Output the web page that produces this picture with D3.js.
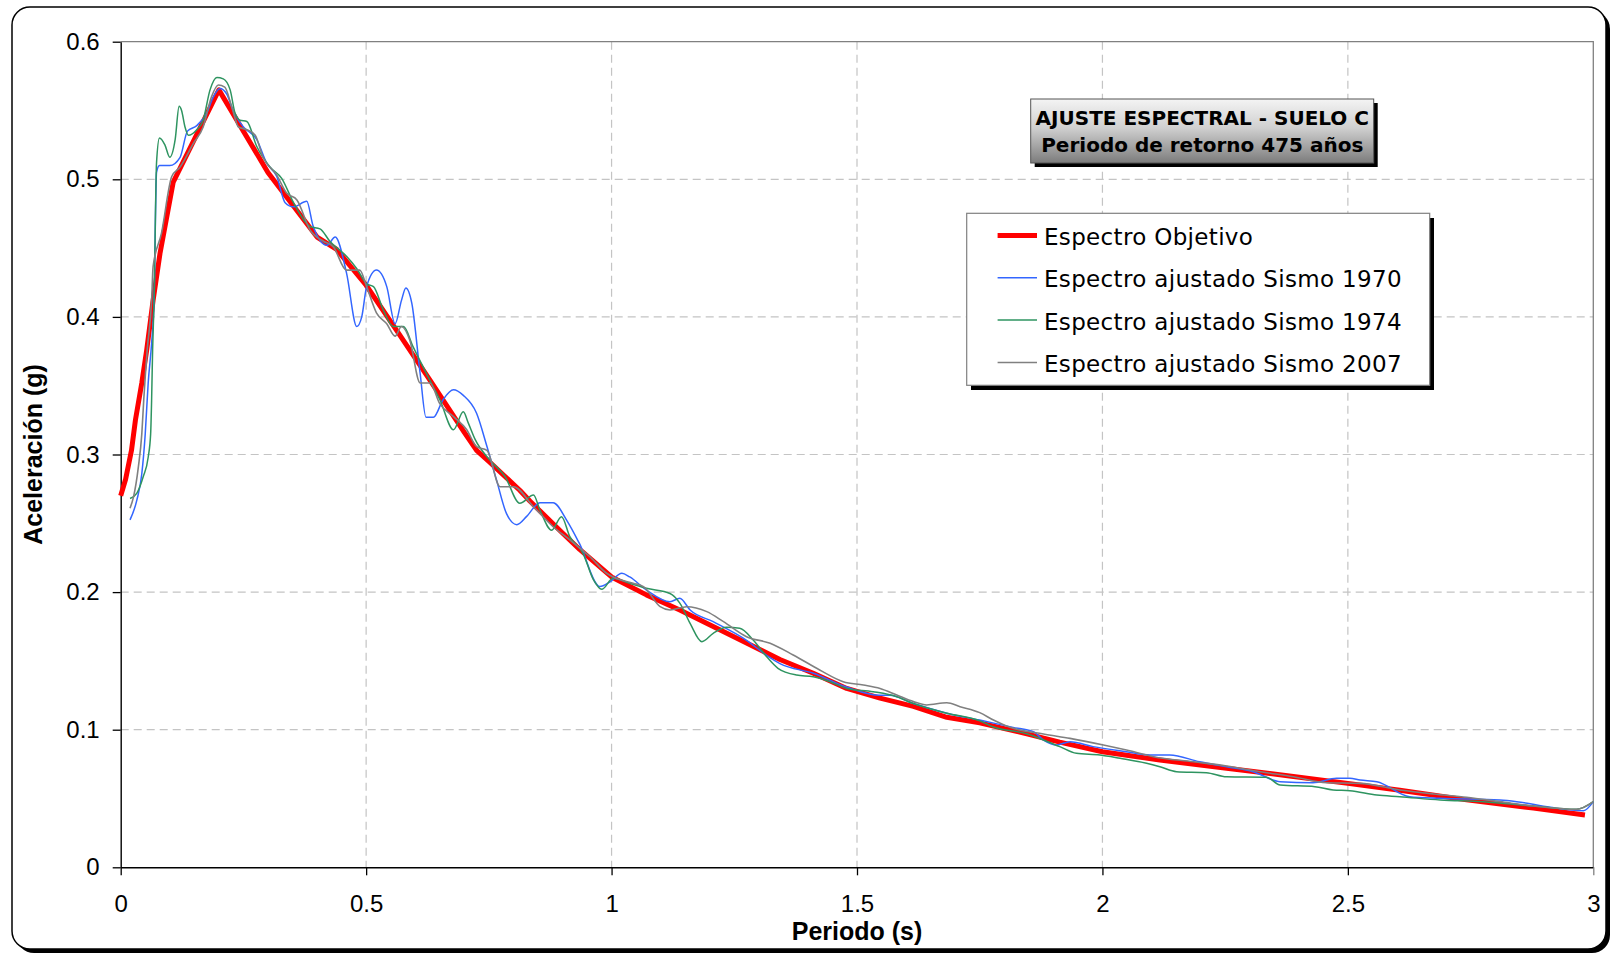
<!DOCTYPE html>
<html><head><meta charset="utf-8">
<script src="https://cdn.jsdelivr.net/npm/d3@7"></script>
<style>html,body{margin:0;padding:0;background:#fff;overflow:hidden}</style>
</head><body><svg id="c" width="1616" height="953"></svg>
<script>
// ---------- DATA ----------
const xTicks = [0, 0.5, 1, 1.5, 2, 2.5, 3];
const xTickLabels = ["0", "0.5", "1", "1.5", "2", "2.5", "3"];
const yTicks = [0, 0.1, 0.2, 0.3, 0.4, 0.5, 0.6];
const yTickLabels = ["0", "0.1", "0.2", "0.3", "0.4", "0.5", "0.6"];
const seriesNames = ["Espectro Objetivo", "Espectro ajustado Sismo 1970", "Espectro ajustado Sismo 1974", "Espectro ajustado Sismo 2007"];

const objT = [0,0.01,0.022,0.03,0.043,0.053,0.066,0.08,0.107,0.2,0.3,0.4,0.44,0.5,0.57,0.617,0.63,0.7,0.725,0.75,0.813,0.834,0.9,0.935,1.0,1.071,1.139,1.207,1.275,1.343,1.411,1.479,1.547,1.615,1.683,1.75,1.846,1.913,2.0,2.117,2.253,2.389,2.5,2.606,2.742,2.878,2.983];
const objA = [0.270,0.282,0.303,0.325,0.352,0.376,0.412,0.446,0.498,0.565,0.505,0.458,0.449,0.423,0.386,0.361,0.354,0.316,0.303,0.295,0.274,0.266,0.243,0.231,0.211,0.198,0.187,0.175,0.163,0.151,0.141,0.130,0.123,0.117,0.109,0.105,0.097,0.091,0.084,0.078,0.072,0.066,0.061,0.056,0.049,0.043,0.038];

const s1970T = [0.019,0.033,0.043,0.050,0.056,0.063,0.068,0.073,0.079,0.100,0.121,0.136,0.155,0.175,0.189,0.202,0.216,0.229,0.250,0.277,0.297,0.318,0.335,0.352,0.379,0.392,0.420,0.437,0.460,0.481,0.491,0.501,0.521,0.542,0.559,0.572,0.581,0.593,0.610,0.622,0.637,0.657,0.678,0.698,0.725,0.746,0.766,0.786,0.807,0.827,0.854,0.881,0.909,0.935,0.976,0.997,1.021,1.037,1.071,1.119,1.139,1.160,1.207,1.275,1.316,1.343,1.411,1.479,1.547,1.567,1.615,1.683,1.750,1.818,1.859,1.880,1.907,1.934,1.981,2.049,2.097,2.137,2.198,2.253,2.307,2.362,2.429,2.477,2.504,2.525,2.559,2.626,2.688,2.810,2.844,2.912,2.980,3.000];
const s1970A = [0.2525,0.267,0.286,0.315,0.352,0.381,0.412,0.505,0.510,0.510,0.516,0.535,0.539,0.548,0.560,0.566,0.562,0.550,0.538,0.529,0.512,0.502,0.483,0.480,0.484,0.466,0.452,0.458,0.432,0.393,0.400,0.422,0.434,0.422,0.395,0.412,0.421,0.410,0.359,0.327,0.327,0.340,0.347,0.343,0.330,0.306,0.281,0.257,0.249,0.255,0.265,0.265,0.252,0.235,0.204,0.2075,0.2137,0.211,0.2015,0.193,0.1955,0.187,0.1785,0.165,0.154,0.148,0.141,0.131,0.125,0.125,0.119,0.112,0.107,0.1017,0.0986,0.0925,0.0889,0.0913,0.0877,0.084,0.0816,0.0816,0.0767,0.073,0.0695,0.0622,0.0615,0.0647,0.0647,0.0634,0.0622,0.0513,0.0501,0.0489,0.0477,0.0436,0.0411,0.0477];

const s1974T = [0.019,0.033,0.046,0.056,0.061,0.063,0.065,0.068,0.073,0.079,0.090,0.100,0.111,0.119,0.124,0.131,0.138,0.155,0.168,0.182,0.196,0.209,0.223,0.233,0.243,0.257,0.277,0.304,0.328,0.352,0.386,0.406,0.426,0.460,0.481,0.501,0.515,0.535,0.555,0.576,0.596,0.637,0.650,0.678,0.698,0.708,0.722,0.752,0.783,0.813,0.841,0.854,0.878,0.898,0.915,0.942,0.963,0.980,1.003,1.037,1.071,1.119,1.139,1.160,1.184,1.207,1.234,1.261,1.289,1.316,1.339,1.377,1.411,1.445,1.479,1.533,1.581,1.615,1.683,1.750,1.778,1.846,1.880,1.913,1.947,1.995,2.036,2.090,2.117,2.151,2.212,2.253,2.334,2.362,2.433,2.470,2.504,2.559,2.606,2.688,2.776,2.878,2.966,3.000];
const s1974A = [0.268,0.272,0.284,0.298,0.315,0.340,0.376,0.412,0.512,0.530,0.525,0.516,0.529,0.553,0.550,0.538,0.532,0.536,0.543,0.565,0.574,0.573,0.565,0.548,0.543,0.542,0.524,0.509,0.5007,0.483,0.4656,0.464,0.455,0.444,0.435,0.424,0.422,0.405,0.393,0.393,0.378,0.349,0.340,0.318,0.331,0.323,0.311,0.296,0.284,0.2645,0.2706,0.2597,0.245,0.2548,0.2403,0.228,0.209,0.202,0.210,0.2064,0.2028,0.199,0.192,0.1773,0.164,0.170,0.1744,0.1737,0.165,0.153,0.1446,0.1397,0.1385,0.1349,0.130,0.1276,0.124,0.119,0.112,0.1065,0.102,0.097,0.0925,0.0877,0.0828,0.0816,0.0792,0.0756,0.0731,0.0695,0.0688,0.0658,0.0654,0.0598,0.0586,0.0562,0.0557,0.0525,0.0513,0.0489,0.0477,0.0445,0.0421,0.0477];

const s2007T = [0.019,0.026,0.036,0.043,0.047,0.054,0.063,0.066,0.083,0.104,0.121,0.148,0.168,0.185,0.199,0.212,0.226,0.240,0.257,0.274,0.290,0.318,0.338,0.359,0.386,0.413,0.433,0.460,0.487,0.501,0.521,0.542,0.559,0.572,0.589,0.610,0.630,0.650,0.678,0.705,0.725,0.746,0.773,0.800,0.841,0.881,0.915,0.956,0.990,1.003,1.044,1.065,1.099,1.119,1.153,1.194,1.228,1.275,1.323,1.370,1.424,1.472,1.513,1.547,1.581,1.615,1.642,1.683,1.710,1.750,1.778,1.812,1.880,1.934,2.002,2.049,2.104,2.185,2.253,2.321,2.389,2.457,2.525,2.606,2.674,2.742,2.810,2.878,2.966,3.000];
const s2007A = [0.261,0.269,0.291,0.315,0.340,0.376,0.412,0.4365,0.4607,0.502,0.509,0.526,0.538,0.560,0.5685,0.567,0.553,0.538,0.536,0.532,0.516,0.503,0.490,0.485,0.463,0.455,0.451,0.434,0.434,0.422,0.403,0.395,0.386,0.393,0.383,0.352,0.352,0.337,0.3275,0.318,0.3057,0.303,0.2766,0.2766,0.262,0.2475,0.2379,0.2257,0.2137,0.211,0.2064,0.204,0.1894,0.187,0.1894,0.1858,0.1785,0.1676,0.1628,0.1543,0.1434,0.1349,0.1325,0.130,0.1252,0.1204,0.118,0.1196,0.1167,0.1124,0.107,0.1017,0.0969,0.0937,0.0889,0.0852,0.0804,0.0767,0.0736,0.0695,0.0658,0.0615,0.061,0.0562,0.0533,0.0509,0.0477,0.0445,0.0421,0.0477];

// ---------- DRAW ----------
const svg = d3.select("#c");
const L = 120.7, R = 1593.3, T = 41.7, B = 867.3;
const x = d3.scaleLinear().domain([0, 3]).range([L, R]);
const y = d3.scaleLinear().domain([0, 0.6]).range([B, T]);

const defs = svg.append("defs");
const grad = defs.append("linearGradient").attr("id", "tg").attr("x1", 0).attr("y1", 0).attr("x2", 0).attr("y2", 1);
grad.append("stop").attr("offset", "0%").attr("stop-color", "#f4f4f4");
grad.append("stop").attr("offset", "45%").attr("stop-color", "#d0d0d0");
grad.append("stop").attr("offset", "100%").attr("stop-color", "#7c7c7c");

// outer frame
svg.append("rect").attr("x", 16).attr("y", 11).attr("width", 1594).attr("height", 942).attr("rx", 18).attr("fill", "#000");
svg.append("rect").attr("x", 12).attr("y", 7).attr("width", 1594).attr("height", 942).attr("rx", 18)
  .attr("fill", "#fff").attr("stroke", "#000").attr("stroke-width", 1.5);

// grid
const g = svg.append("g");
g.selectAll("line.hg").data(yTicks.filter(v => v > 0 && v < 0.6)).enter().append("line")
  .attr("x1", L).attr("x2", R).attr("y1", d => y(d)).attr("y2", d => y(d))
  .attr("stroke", "#c4c4c4").attr("stroke-width", 1.2).attr("stroke-dasharray", "8,5");
g.selectAll("line.vg").data(xTicks.filter(v => v > 0 && v < 3)).enter().append("line")
  .attr("y1", T).attr("y2", B).attr("x1", d => x(d)).attr("x2", d => x(d))
  .attr("stroke", "#c4c4c4").attr("stroke-width", 1.2).attr("stroke-dasharray", "8,5");

// plot border (top/right gray)
svg.append("path").attr("d", `M${L},${T}H${R}V${B}`).attr("fill", "none").attr("stroke", "#808080").attr("stroke-width", 1.3);

// axes
const fontAx = "'Liberation Sans', Arial, sans-serif";
const xa = svg.append("g").attr("transform", `translate(0,${B})`)
  .call(d3.axisBottom(x).tickValues(xTicks).tickSize(8).tickSizeOuter(0).tickPadding(20)
    .tickFormat((d, i) => xTickLabels[i]));
const ya = svg.append("g").attr("transform", `translate(${L},0)`)
  .call(d3.axisLeft(y).tickValues(yTicks).tickSize(8).tickSizeOuter(0).tickPadding(13)
    .tickFormat((d, i) => yTickLabels[i]));
[xa, ya].forEach(a => {
  a.select(".domain").attr("stroke", "#000").attr("stroke-width", 1.4);
  a.selectAll(".tick line").attr("stroke", "#000").attr("stroke-width", 1.3);
  a.selectAll(".tick text").attr("font-family", fontAx).attr("font-size", 24).attr("fill", "#000");
});
xa.selectAll(".tick line").filter(d => d === 3).attr("stroke", "#808080");

// series
const toPts = (ts, as) => ts.map((t, i) => [t, as[i]]);
const lineLin = d3.line().x(d => x(d[0])).y(d => y(d[1])).curve(d3.curveLinear);
const lineSm = d3.line().x(d => x(d[0])).y(d => y(d[1])).curve(d3.curveMonotoneX);
const series = [
  { pts: toPts(objT, objA), color: "#ff0000", w: 5, gen: lineLin },
  { pts: toPts(s1970T, s1970A), color: "#3366ff", w: 1.5, gen: lineSm },
  { pts: toPts(s1974T, s1974A), color: "#2e9460", w: 1.5, gen: lineSm },
  { pts: toPts(s2007T, s2007A), color: "#808080", w: 1.6, gen: lineSm }
];
series.forEach(s => {
  svg.append("path").attr("d", s.gen(s.pts)).attr("fill", "none")
    .attr("stroke", s.color).attr("stroke-width", s.w).attr("stroke-linejoin", "round");
});

// axis titles
svg.append("text").attr("x", (L + R) / 2).attr("y", 940).attr("text-anchor", "middle")
  .attr("font-family", fontAx).attr("font-weight", "bold").attr("font-size", 25).text("Periodo (s)");
svg.append("text").attr("transform", `translate(42,${(T + B) / 2}) rotate(-90)`).attr("text-anchor", "middle")
  .attr("font-family", fontAx).attr("font-weight", "bold").attr("font-size", 25).text("Aceleración (g)");

// title box
const fontV = "'DejaVu Sans', Verdana, sans-serif";
svg.append("rect").attr("x", 1034.7).attr("y", 103).attr("width", 343).attr("height", 64).attr("fill", "#000");
svg.append("rect").attr("x", 1030.7).attr("y", 99).attr("width", 343).attr("height", 64)
  .attr("fill", "url(#tg)").attr("stroke", "#555").attr("stroke-width", 1);
svg.append("text").attr("x", 1202.3).attr("y", 125).attr("text-anchor", "middle")
  .attr("font-family", fontV).attr("font-weight", "bold").attr("font-size", 20).text("AJUSTE ESPECTRAL - SUELO C");
svg.append("text").attr("x", 1202.3).attr("y", 151.5).attr("text-anchor", "middle")
  .attr("font-family", fontV).attr("font-weight", "bold").attr("font-size", 20).text("Periodo de retorno 475 años");

// legend
svg.append("rect").attr("x", 971).attr("y", 218).attr("width", 463).attr("height", 172).attr("fill", "#000");
svg.append("rect").attr("x", 966.7).attr("y", 213.3).attr("width", 463).attr("height", 172)
  .attr("fill", "#fff").attr("stroke", "#808080").attr("stroke-width", 1.2);
const rowBase = [245, 287.3, 329.6, 371.9];
series.forEach((s, i) => {
  svg.append("line").attr("x1", 997.6).attr("x2", 1037).attr("y1", rowBase[i] - 9.5).attr("y2", rowBase[i] - 9.5)
    .attr("stroke", s.color).attr("stroke-width", s.w === 5 ? 5 : 1.5);
  svg.append("text").attr("x", 1044).attr("y", rowBase[i]).attr("font-family", fontV).attr("font-size", 23)
    .attr("letter-spacing", 0.33).attr("fill", "#000").text(seriesNames[i]);
});
</script></body></html>
